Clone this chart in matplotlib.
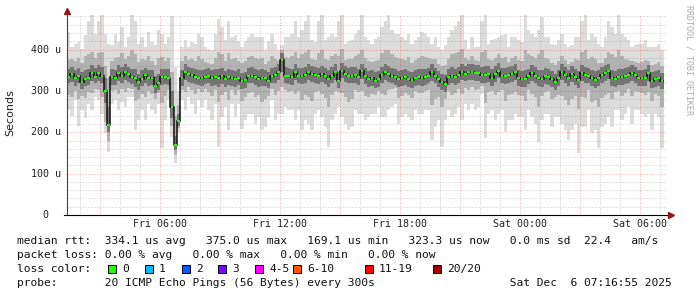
import numpy as np
import matplotlib
matplotlib.use('Agg')
from matplotlib import pyplot as plt
from matplotlib.patches import Rectangle

# ping rtt per 10 min interval, microseconds
t_start = 1.35          # hours after Fri 00:00
step = 1.0 / 6.0        # 10 minutes

median = [333, 341, 330, 335, 322, 329, 332, 343, 334, 343,
          337, 300, 217, 333, 331, 343, 337, 345, 340, 333,
          330, 322, 329, 338, 330, 330, 312, 320, 333, 334,
          332, 261, 169, 226, 330, 345, 340, 338, 334, 332,
          330, 334, 337, 330, 333, 331, 335, 329, 333, 331,
          329, 332, 324, 326, 337, 337, 334, 329, 331, 330,
          325, 337, 338, 345, 375, 337, 335, 333, 345, 337,
          336, 339, 345, 340, 338, 335, 341, 336, 329, 337,
          345, 325, 349, 340, 337, 337, 339, 333, 347, 335,
          329, 331, 325, 329, 338, 345, 341, 337, 333, 329,
          331, 333, 329, 327, 332, 334, 332, 333, 337, 345,
          337, 328, 321, 317, 333, 337, 333, 339, 345, 342,
          345, 345, 343, 343, 338, 339, 341, 332, 340, 349,
          337, 335, 339, 341, 345, 331, 329, 329, 335, 343,
          337, 331, 329, 335, 333, 329, 322, 331, 345, 339,
          331, 341, 333, 327, 343, 339, 337, 330, 327, 331,
          338, 344, 347, 331, 329, 333, 334, 336, 338, 343,
          339, 330, 330, 332, 343, 325, 328, 331, 323]

ping_max = [442, 406, 414, 418, 402, 434, 470, 490, 438, 470,
            490, 438, 414, 410, 438, 418, 454, 406, 430, 490,
            470, 414, 430, 406, 442, 418, 410, 446, 438, 414,
            430, 482, 357, 300, 406, 422, 406, 418, 414, 438,
            430, 406, 402, 398, 438, 474, 454, 422, 470, 430,
            434, 420, 406, 420, 430, 438, 430, 430, 430, 398,
            420, 438, 414, 398, 410, 430, 430, 438, 470, 430,
            446, 470, 490, 422, 418, 470, 490, 422, 430, 438,
            430, 470, 490, 414, 420, 422, 438, 446, 490, 430,
            422, 414, 426, 430, 454, 470, 490, 446, 438, 438,
            430, 422, 438, 414, 422, 430, 442, 438, 430, 414,
            430, 406, 398, 410, 430, 446, 458, 470, 490, 422,
            402, 430, 406, 406, 470, 490, 414, 422, 426, 430,
            434, 438, 406, 430, 430, 422, 418, 490, 446, 438,
            430, 446, 478, 430, 430, 414, 410, 422, 438, 414,
            406, 410, 430, 430, 470, 490, 422, 438, 430, 414,
            406, 430, 470, 454, 438, 490, 438, 430, 422, 406,
            410, 414, 414, 422, 406, 406, 406, 414, 398]

ping_min = [253, 240, 277, 215, 253, 235, 269, 253, 285, 277,
            245, 197, 153, 269, 277, 253, 273, 261, 285, 285,
            205, 229, 253, 229, 269, 253, 245, 269, 161, 229,
            277, 189, 125, 200, 277, 253, 285, 269, 245, 277,
            261, 277, 253, 229, 269, 165, 237, 261, 205, 269,
            237, 269, 209, 229, 245, 245, 221, 237, 205, 213,
            237, 277, 229, 245, 245, 261, 253, 253, 229, 253,
            205, 229, 221, 205, 245, 253, 237, 213, 165, 229,
            245, 261, 237, 221, 205, 213, 253, 245, 245, 229,
            237, 245, 245, 261, 237, 237, 253, 261, 269, 221,
            237, 245, 237, 229, 253, 245, 245, 253, 253, 181,
            213, 229, 165, 229, 253, 237, 245, 261, 229, 269,
            253, 269, 253, 261, 293, 185, 245, 253, 229, 245,
            253, 201, 229, 229, 245, 237, 237, 205, 253, 237,
            221, 177, 229, 245, 245, 213, 237, 237, 221, 205,
            181, 205, 221, 149, 213, 213, 253, 197, 205, 161,
            213, 221, 237, 213, 253, 253, 229, 245, 261, 221,
            253, 253, 245, 237, 245, 205, 245, 237, 161]

p90 = [375, 378, 372, 380, 368, 385, 390, 395, 380, 392,
       395, 360, 330, 372, 380, 382, 392, 378, 385, 398,
       390, 370, 378, 375, 385, 372, 362, 380, 382, 372,
       380, 345, 240, 265, 372, 385, 375, 378, 372, 385,
       378, 370, 368, 365, 380, 395, 390, 372, 392, 378,
       380, 372, 368, 372, 382, 385, 380, 378, 380, 365,
       372, 385, 378, 372, 398, 382, 380, 385, 395, 380,
       388, 395, 400, 378, 375, 392, 398, 378, 375, 385,
       388, 385, 402, 375, 378, 378, 385, 388, 400, 380,
       372, 370, 372, 375, 392, 398, 400, 388, 382, 380,
       378, 375, 382, 368, 375, 380, 385, 382, 380, 378,
       378, 365, 360, 362, 378, 388, 392, 395, 402, 380,
       375, 385, 375, 372, 395, 400, 378, 375, 380, 388,
       380, 382, 370, 380, 385, 375, 372, 398, 388, 385,
       380, 388, 398, 380, 378, 368, 362, 372, 385, 375,
       365, 370, 378, 375, 395, 400, 378, 382, 378, 368,
       368, 380, 395, 390, 382, 398, 385, 378, 375, 372,
       370, 368, 370, 375, 372, 362, 365, 370, 360]

p10 = [290, 285, 300, 280, 288, 282, 298, 295, 305, 302,
       285, 225, 180, 300, 302, 292, 305, 298, 308, 305,
       275, 280, 292, 285, 300, 292, 280, 295, 270, 288,
       302, 215, 145, 210, 302, 298, 310, 302, 292, 305,
       298, 305, 298, 288, 302, 272, 290, 298, 278, 302,
       290, 302, 275, 285, 295, 298, 285, 290, 272, 280,
       288, 305, 290, 300, 310, 302, 298, 300, 292, 300,
       278, 290, 285, 275, 298, 300, 292, 282, 262, 290,
       300, 298, 295, 285, 272, 280, 302, 298, 300, 288,
       285, 292, 290, 300, 292, 290, 302, 305, 308, 282,
       288, 295, 290, 282, 300, 295, 295, 300, 302, 265,
       280, 285, 262, 280, 300, 290, 295, 305, 292, 308,
       302, 310, 302, 305, 312, 270, 298, 300, 290, 298,
       302, 275, 290, 292, 298, 290, 288, 275, 302, 292,
       285, 262, 288, 298, 300, 280, 285, 290, 288, 278,
       265, 280, 288, 255, 285, 282, 302, 272, 278, 260,
       282, 290, 295, 280, 298, 300, 288, 295, 305, 288,
       300, 298, 295, 290, 298, 275, 292, 288, 262]

p75 = [352, 358, 350, 355, 345, 350, 352, 362, 355, 362,
       358, 330, 260, 352, 350, 362, 358, 365, 358, 352,
       352, 342, 350, 356, 350, 350, 335, 340, 352, 354,
       352, 300, 190, 245, 350, 364, 358, 356, 354, 350,
       350, 353, 356, 350, 352, 352, 355, 348, 353, 350,
       348, 352, 344, 346, 356, 357, 354, 350, 352, 350,
       345, 356, 358, 364, 392, 358, 355, 354, 365, 356,
       356, 358, 365, 360, 357, 355, 360, 356, 350, 357,
       365, 346, 368, 360, 356, 357, 358, 353, 366, 355,
       349, 350, 345, 348, 358, 365, 360, 356, 353, 348,
       350, 352, 349, 346, 351, 354, 352, 352, 356, 364,
       356, 348, 341, 338, 352, 357, 353, 358, 365, 361,
       364, 365, 362, 362, 358, 360, 360, 352, 360, 368,
       356, 355, 358, 360, 365, 350, 349, 350, 354, 362,
       357, 351, 350, 355, 352, 349, 342, 350, 364, 358,
       350, 360, 352, 347, 362, 358, 356, 350, 347, 350,
       357, 363, 366, 351, 349, 352, 353, 355, 357, 362,
       358, 350, 350, 352, 362, 345, 348, 350, 343]

p25 = [318, 322, 312, 318, 305, 312, 315, 325, 318, 325,
       318, 270, 200, 315, 314, 325, 320, 326, 322, 316,
       310, 302, 312, 320, 312, 314, 295, 302, 315, 316,
       315, 235, 158, 215, 312, 326, 322, 320, 316, 315,
       312, 316, 318, 312, 315, 310, 316, 310, 314, 313,
       310, 314, 305, 308, 318, 318, 315, 310, 312, 312,
       306, 318, 320, 326, 345, 318, 316, 314, 326, 318,
       317, 320, 326, 321, 320, 316, 322, 317, 310, 318,
       326, 306, 330, 321, 318, 318, 320, 314, 328, 316,
       310, 312, 306, 310, 320, 326, 322, 318, 314, 310,
       312, 314, 310, 308, 313, 315, 313, 314, 318, 325,
       318, 309, 302, 298, 314, 318, 314, 320, 326, 323,
       326, 326, 324, 324, 319, 320, 322, 313, 321, 330,
       318, 316, 320, 322, 326, 312, 310, 309, 316, 324,
       318, 312, 310, 316, 314, 310, 303, 312, 326, 320,
       312, 322, 314, 308, 324, 320, 318, 311, 308, 312,
       319, 325, 328, 312, 310, 314, 315, 317, 319, 324,
       320, 311, 311, 313, 324, 306, 309, 312, 304]

y_ticks = [0, 100, 200, 300, 400]
y_labels = ['  0  ', '100 u', '200 u', '300 u', '400 u']
x_ticks = [6, 12, 18, 24, 30]
x_labels = ['Fri 06:00', 'Fri 12:00', 'Fri 18:00', 'Sat 00:00', 'Sat 06:00']

loss_labels = ['0', '1', '2', '3', '4-5', '6-10', '11-19', '20/20']
loss_colors = ['#26ff00', '#00b8ff', '#0059ff', '#7e00ff', '#ff00ff',
               '#ff5500', '#ff0000', '#a10000']

legend_lines = [
    'median rtt:  334.1 us avg   375.0 us max   169.1 us min   323.3 us now   0.0 ms sd  22.4   am/s',
    'packet loss: 0.00 % avg   0.00 % max   0.00 % min   0.00 % now',
    'loss color:',
    'probe:       20 ICMP Echo Pings (56 Bytes) every 300s' + ' ' * 20 + 'Sat Dec  6 07:16:55 2025',
]

W, H = 697, 297
MONO = 'DejaVu Sans Mono'

fig = plt.figure(figsize=(W / 100, H / 100), dpi=100)
ax = fig.add_axes([67 / W, (H - 215) / H, 600 / W, 200 / H])
ax.set_xlim(1.35, 31.35)
ax.set_ylim(0, 483.4)
ax.set_axis_off()

n = len(median)
edges = t_start + np.arange(n + 1) * step

# smoke
ax.stairs(ping_max, edges, baseline=ping_min, fill=True, color='#dcdcdc', lw=0, zorder=1)
ax.stairs(p90, edges, baseline=p10, fill=True, color='#b2b2b2', lw=0, zorder=1.5)
ax.stairs(p75, edges, baseline=p25, fill=True, color='#747474', lw=0, zorder=2)

# grid
dots = (0, (1, 2))
for h in range(2, 32):
    c = (1, 0, 0, 0.35) if h % 3 == 0 else (0.55, 0.55, 0.55, 0.45)
    ax.axvline(h, color=c, lw=0.72, ls=dots, zorder=3)
for v in range(20, 481, 20):
    c = (1, 0, 0, 0.35) if v % 100 == 0 else (0.55, 0.55, 0.55, 0.45)
    ax.axhline(v, color=c, lw=0.72, ls=dots, zorder=3)

# median
ax.stairs(median, edges, baseline=None, color='#111111', lw=1.1, zorder=4)
ax.hlines(median, edges[:-1] + step * 0.1, edges[1:] - step * 0.1,
          color='#26ff00', lw=1.5, zorder=5)

# axes with arrows
ax.plot([0, 0], [0, 1.01], transform=ax.transAxes, color='#444444', lw=0.8,
        clip_on=False, zorder=6)
ax.plot([-0.005, 1.004], [0, 0], transform=ax.transAxes, color='black', lw=0.8,
        clip_on=False, zorder=6)
ax.plot([0], [1.02], transform=ax.transAxes, marker='^', ms=4.5, color='#8b1a1a',
        clip_on=False, zorder=7)
ax.plot([1.0067], [0], transform=ax.transAxes, marker='>', ms=4.5, color='#8b1a1a',
        clip_on=False, zorder=7)

for v, lab in zip(y_ticks, y_labels):
    ax.annotate(lab, xy=(0, v), xycoords=('axes fraction', 'data'),
                xytext=(-36, 0), textcoords='offset pixels', ha='left', va='center',
                family=MONO, size=7.2, color='#222222')
for h, lab in zip(x_ticks, x_labels):
    ax.annotate(lab, xy=(h, 0), xycoords=('data', 'axes fraction'),
                xytext=(0, -9), textcoords='offset pixels', ha='center', va='center',
                family=MONO, size=7.2, color='#222222')

fig.text(10.5 / W, 1 - 113 / H, 'Seconds', rotation=90, ha='center', va='center',
         family='DejaVu Sans', size=8, color='#222222')
fig.text(689 / W, 1 - 5 / H, 'RRDTOOL / TOBI OETIKER', rotation=270, ha='center',
         va='top', family=MONO, size=6, color='#aaaaaa')

# legend
for i, line in enumerate(legend_lines):
    fig.text(17 / W, 1 - (241 + 14 * i) / H, line, ha='left', va='center',
             family=MONO, size=8.1, color='#111111')

sq_x = [108, 145, 182, 218, 255, 293, 365, 433]
for x, lab, col in zip(sq_x, loss_labels, loss_colors):
    fig.patches.append(Rectangle((x / W, 1 - 273 / H), 8 / W, 8 / H,
                                 transform=fig.transFigure, fc=col, ec='black', lw=0.7))
    fig.text((x + 14) / W, 1 - 269 / H, lab, ha='left', va='center',
             family=MONO, size=8.1, color='#111111')

fig.savefig('out.png', dpi=100)
